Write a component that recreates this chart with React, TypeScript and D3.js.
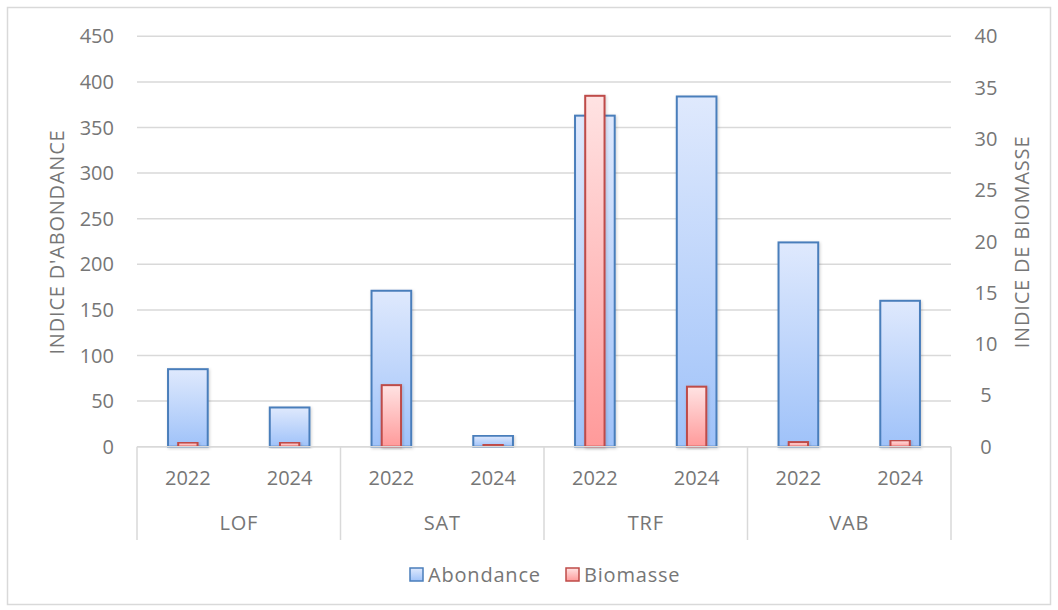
import React from "react";
import * as d3 from "d3";

const groups = ["LOF", "SAT", "TRF", "VAB"];
const years = ["2022", "2024"];
const abondance = [85, 43, 171, 12, 363, 384, 224, 160];
const biomasse = [0.4, 0.4, 6.0, 0.2, 34.2, 5.85, 0.45, 0.62];
const leftTicks = [0, 50, 100, 150, 200, 250, 300, 350, 400, 450];
const rightTicks = [0, 5, 10, 15, 20, 25, 30, 35, 40];

const W = 1058;
const H = 610;
const FONT = "'Open Sans', 'DejaVu Sans', sans-serif";
const TXT = "#767676";
const FS = 20;
const LS = 0.8;

export default function App() {
  const cats = groups.flatMap((g) => years.map((y) => `${g}-${y}`));
  const x = d3.scaleBand<string>().domain(cats).range([137, 951]).padding(0);
  const yL = d3.scaleLinear().domain([0, 450]).range([446.7, 36.3]);
  const yR = d3.scaleLinear().domain([0, 40]).range([446.7, 36.3]);
  const bw = x.bandwidth();
  const blueW = bw * 0.39;
  const redW = bw * 0.19;
  const groupX = d3.scaleBand<string>().domain(groups).range([137, 951]).padding(0);

  return (
    <div style={{ position: "absolute", left: 0, top: 0 }}>
      <svg width={W} height={H} style={{ display: "block", fontFamily: FONT }}>
        <defs>
          <linearGradient id="gBlue" x1="0" y1="0" x2="0" y2="1">
            <stop offset="0" stopColor="#dfe9fd" />
            <stop offset="1" stopColor="#9fc2f9" />
          </linearGradient>
          <linearGradient id="gRed" x1="0" y1="0" x2="0" y2="1">
            <stop offset="0" stopColor="#ffe3e3" />
            <stop offset="1" stopColor="#ff9a9a" />
          </linearGradient>
          <filter id="shadow" x="-20%" y="-5%" width="140%" height="110%">
            <feDropShadow dx="1" dy="1" stdDeviation="1.5" floodColor="#000" floodOpacity="0.18" />
          </filter>
        </defs>
        <rect x={0} y={0} width={W} height={H} fill="#fff" />
        <rect x={7.5} y={7.5} width={1043} height={597} fill="#fff" stroke="#d9d9d9" strokeWidth={1.5} />

        {leftTicks.map((t) => (
          <line key={`g${t}`} x1={137} x2={951} y1={yL(t)} y2={yL(t)} stroke="#d9d9d9" strokeWidth={1.5} />
        ))}

        {leftTicks.map((t) => (
          <text key={`l${t}`} x={114} y={yL(t)} dy="0.35em" textAnchor="end" fontSize={FS} fill={TXT}>
            {t}
          </text>
        ))}
        {rightTicks.map((t) => (
          <text key={`r${t}`} x={986} y={yR(t)} dy="0.35em" textAnchor="middle" fontSize={FS} fill={TXT}>
            {t}
          </text>
        ))}

        {cats.map((c, i) => {
          const cx = (x(c) as number) + bw / 2;
          return (
            <rect
              key={`b${c}`}
              x={cx - blueW / 2}
              y={yL(abondance[i])}
              width={blueW}
              height={yL(0) - yL(abondance[i])}
              fill="url(#gBlue)"
              stroke="#4a7ebb"
              strokeWidth={2}
              filter="url(#shadow)"
            />
          );
        })}
        {cats.map((c, i) => {
          const cx = (x(c) as number) + bw / 2;
          return (
            <rect
              key={`r${c}`}
              x={cx - redW / 2}
              y={yR(biomasse[i])}
              width={redW}
              height={yR(0) - yR(biomasse[i])}
              fill="url(#gRed)"
              stroke="#be4b48"
              strokeWidth={2}
              filter="url(#shadow)"
            />
          );
        })}

        <line x1={137} x2={951} y1={yL(0)} y2={yL(0)} stroke="#d9d9d9" strokeWidth={1.5} />
        {[...groups.map((g) => groupX(g) as number), 951].map((gx, i) => (
          <line key={`s${i}`} x1={gx} x2={gx} y1={yL(0)} y2={540} stroke="#d9d9d9" strokeWidth={1.5} />
        ))}
        {cats.map((c, i) => (
          <text key={`y${c}`} x={(x(c) as number) + bw / 2} y={485} textAnchor="middle" fontSize={FS} fill={TXT}>
            {years[i % 2]}
          </text>
        ))}
        {groups.map((g) => (
          <text key={`gl${g}`} x={(groupX(g) as number) + groupX.bandwidth() / 2} y={530} textAnchor="middle" fontSize={FS} letterSpacing={LS} fill={TXT}>
            {g}
          </text>
        ))}

        <text transform="translate(64,242) rotate(-90)" textAnchor="middle" fontSize={FS} letterSpacing={LS} fill={TXT}>
          INDICE D'ABONDANCE
        </text>
        <text transform="translate(1029,242) rotate(-90)" textAnchor="middle" fontSize={FS} letterSpacing={LS} fill={TXT}>
          INDICE DE BIOMASSE
        </text>

        <rect x={410} y={568} width={13} height={13} fill="url(#gBlue)" stroke="#4a7ebb" strokeWidth={1.5} />
        <text x={428} y={582} fontSize={FS} letterSpacing={LS} fill={TXT}>Abondance</text>
        <rect x={566} y={568} width={13} height={13} fill="url(#gRed)" stroke="#be4b48" strokeWidth={1.5} />
        <text x={584} y={582} fontSize={FS} letterSpacing={LS} fill={TXT}>Biomasse</text>
      </svg>
    </div>
  );
}
